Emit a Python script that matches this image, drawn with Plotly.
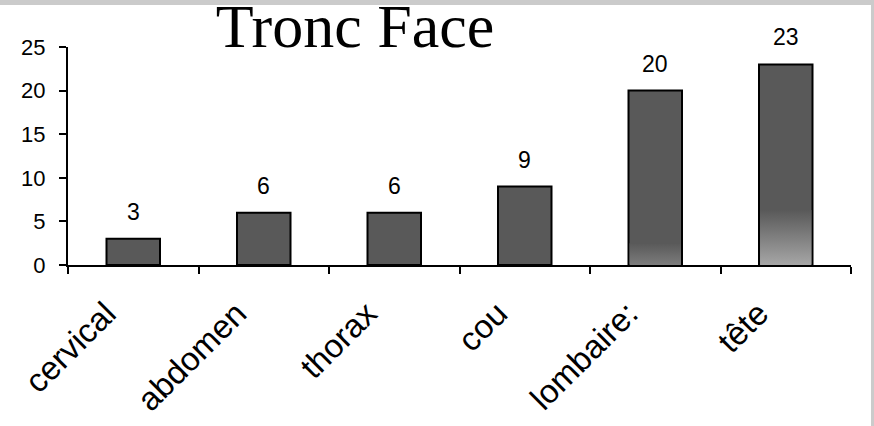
import plotly.graph_objects as go

categories = ["cervical", "abdomen", "thorax", "cou", "lombaire:", "tête"]
values = [3, 6, 6, 9, 20, 23]
y_ticks = [0, 5, 10, 15, 20, 25]
title_text = "Tronc Face"

# gradient styling for the bars that show a light bottom fade (style, not data)
grad_top = {4: 2.5, 5: 6.3}
grad_bottom_color = {4: "#7c7c7c", 5: "#a6a6a6"}

BAR_COLOR = "#595959"
BAR_WIDTH = 0.41

fig = go.Figure()
fig.add_trace(go.Bar(
    x=categories, y=values,
    width=BAR_WIDTH,
    marker=dict(color=BAR_COLOR, line=dict(color="black", width=2)),
    hoverinfo="x+y", showlegend=False,
))

inner = BAR_WIDTH / 2 - 0.008
for i, top in grad_top.items():
    fig.add_trace(go.Scatter(
        x=[i - inner, i + inner, i + inner, i - inner, i - inner],
        y=[0, 0, top, top, 0],
        xaxis="x2", yaxis="y",
        mode="lines", line=dict(width=0, color="rgba(0,0,0,0)"),
        fill="toself",
        fillgradient=dict(type="vertical", start=0, stop=top,
                          colorscale=[[0, grad_bottom_color[i]], [1, BAR_COLOR]]),
        hoverinfo="skip", showlegend=False,
    ))

for c, v in zip(categories, values):
    fig.add_annotation(x=c, y=v, text=str(v), showarrow=False,
                       yanchor="bottom", yshift=12,
                       font=dict(family="Liberation Sans, Arial", size=23, color="black"))

# scanned-page grey border strips
fig.add_shape(type="rect", xref="paper", yref="paper",
              x0=-0.1, x1=1.04, y0=(265 - 5) / 218, y1=1.25,
              fillcolor="#cbcbcb", line=dict(width=0), layer="below")
fig.add_shape(type="rect", xref="paper", yref="paper",
              x0=(871 - 68) / 783, x1=1.04, y0=-0.8, y1=1.25,
              fillcolor="#cbcbcb", line=dict(width=0), layer="below")

fig.update_layout(
    width=874, height=426,
    margin=dict(l=68, r=23, t=47, b=161),
    paper_bgcolor="white", plot_bgcolor="white",
    barmode="overlay",
    font=dict(family="Liberation Sans, Arial", color="black"),
    title=dict(text=title_text, xref="container", yref="container",
               x=355 / 874, xanchor="center", y=1 - 4 / 426, yanchor="top",
               font=dict(family="Liberation Serif, Times New Roman", size=62, color="black")),
    xaxis=dict(
        type="category", showline=True, linecolor="black", linewidth=2,
        ticks="outside", ticklen=7, tickwidth=2, tickcolor="black",
        tickson="boundaries", tickangle=-45, showgrid=False,
        tickfont=dict(size=33, family="Liberation Sans, Arial"),
        ticklabelstandoff=14, ticklabelshift=-27,
        range=[-0.5, 5.5], automargin=False,
    ),
    xaxis2=dict(overlaying="x", range=[-0.5, 5.5], visible=False),
    yaxis=dict(
        range=[0, 25], tickvals=y_ticks, showline=True, linecolor="black",
        linewidth=2, ticks="outside", ticklen=7, tickwidth=2, tickcolor="black",
        showgrid=False, zeroline=False, automargin=False,
        tickfont=dict(size=22, family="Liberation Sans, Arial"),
        ticklabelstandoff=9,
    ),
)

fig.write_html("out.html", config={"displayModeBar": False},
               post_script="document.body.style.margin='0';document.body.style.overflow='hidden';")
